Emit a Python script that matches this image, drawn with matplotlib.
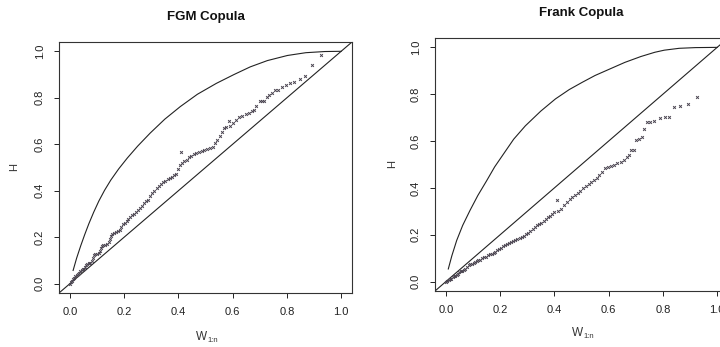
import numpy as np
import matplotlib
matplotlib.use('Agg')
import matplotlib.pyplot as plt

plt.rcParams['font.family'] = ['Liberation Sans', 'DejaVu Sans']

# FGM copula: empirical points (W_1:n, H)
fgm_w = [0.000, 0.004, 0.008, 0.012, 0.016, 0.020, 0.025, 0.030, 0.034, 0.038,
         0.043, 0.048, 0.053, 0.057, 0.060, 0.064, 0.070, 0.076, 0.082, 0.085,
         0.088, 0.093, 0.100, 0.106, 0.111, 0.114, 0.117, 0.123, 0.130, 0.137,
         0.143, 0.147, 0.150, 0.155, 0.162, 0.170, 0.178, 0.185, 0.190, 0.196,
         0.203, 0.210, 0.216, 0.222, 0.230, 0.238, 0.245, 0.252, 0.260, 0.266,
         0.272, 0.280, 0.288, 0.296, 0.304, 0.312, 0.320, 0.328, 0.336, 0.344,
         0.352, 0.360, 0.368, 0.376, 0.384, 0.392, 0.400, 0.406, 0.411, 0.414,
         0.422, 0.430, 0.438, 0.447, 0.456, 0.466, 0.476, 0.486, 0.496, 0.506,
         0.516, 0.526, 0.536, 0.544, 0.552, 0.560, 0.568, 0.576, 0.586, 0.590,
         0.600, 0.612, 0.624, 0.636, 0.648, 0.660, 0.670, 0.677, 0.685, 0.700,
         0.707, 0.716, 0.725, 0.734, 0.744, 0.757, 0.769, 0.781, 0.796, 0.811,
         0.828, 0.848, 0.868, 0.893, 0.926]
fgm_h = [0.000, 0.006, 0.012, 0.020, 0.026, 0.034, 0.036, 0.040, 0.048, 0.055,
         0.058, 0.062, 0.064, 0.072, 0.082, 0.085, 0.087, 0.090, 0.096, 0.110,
         0.122, 0.126, 0.129, 0.132, 0.140, 0.152, 0.163, 0.166, 0.168, 0.172,
         0.178, 0.192, 0.205, 0.212, 0.218, 0.224, 0.226, 0.232, 0.245, 0.258,
         0.262, 0.268, 0.280, 0.289, 0.294, 0.300, 0.308, 0.318, 0.325, 0.336,
         0.348, 0.356, 0.362, 0.376, 0.390, 0.400, 0.410, 0.420, 0.428, 0.436,
         0.444, 0.450, 0.456, 0.460, 0.466, 0.474, 0.494, 0.510, 0.566, 0.520,
         0.528, 0.534, 0.544, 0.550, 0.556, 0.564, 0.568, 0.572, 0.576, 0.580,
         0.582, 0.590, 0.604, 0.620, 0.636, 0.654, 0.668, 0.676, 0.702, 0.680,
         0.692, 0.704, 0.716, 0.722, 0.730, 0.736, 0.742, 0.746, 0.763, 0.784,
         0.788, 0.788, 0.802, 0.812, 0.820, 0.833, 0.833, 0.848, 0.853, 0.863,
         0.870, 0.879, 0.892, 0.942, 0.986]

# Frank copula: empirical points
frank_w = [0.000, 0.005, 0.010, 0.015, 0.020, 0.025, 0.030, 0.035, 0.040, 0.045,
           0.050, 0.055, 0.060, 0.066, 0.072, 0.078, 0.084, 0.090, 0.096, 0.102,
           0.108, 0.114, 0.120, 0.127, 0.134, 0.141, 0.148, 0.155, 0.162, 0.169,
           0.176, 0.183, 0.190, 0.197, 0.204, 0.211, 0.218, 0.225, 0.232, 0.240,
           0.248, 0.256, 0.264, 0.272, 0.280, 0.288, 0.296, 0.304, 0.312, 0.320,
           0.328, 0.336, 0.344, 0.352, 0.360, 0.368, 0.376, 0.384, 0.392, 0.400,
           0.410, 0.412, 0.424, 0.436, 0.446, 0.456, 0.466, 0.476, 0.486, 0.496,
           0.506, 0.516, 0.526, 0.536, 0.546, 0.556, 0.566, 0.576, 0.586, 0.596,
           0.608, 0.620, 0.632, 0.644, 0.656, 0.668, 0.676, 0.684, 0.692, 0.702,
           0.712, 0.722, 0.731, 0.741, 0.752, 0.768, 0.790, 0.806, 0.823, 0.842,
           0.864, 0.891, 0.926]
frank_h = [0.000, 0.003, 0.006, 0.010, 0.012, 0.018, 0.022, 0.024, 0.027, 0.033,
           0.040, 0.044, 0.046, 0.048, 0.052, 0.062, 0.070, 0.074, 0.077, 0.079,
           0.083, 0.088, 0.091, 0.094, 0.099, 0.104, 0.107, 0.112, 0.116, 0.119,
           0.122, 0.128, 0.134, 0.139, 0.145, 0.151, 0.156, 0.162, 0.165, 0.168,
           0.172, 0.176, 0.182, 0.188, 0.192, 0.196, 0.202, 0.208, 0.216, 0.224,
           0.232, 0.240, 0.246, 0.252, 0.258, 0.266, 0.274, 0.282, 0.290, 0.296,
           0.347, 0.300, 0.312, 0.326, 0.340, 0.352, 0.362, 0.370, 0.378, 0.386,
           0.398, 0.410, 0.418, 0.424, 0.432, 0.442, 0.454, 0.466, 0.484, 0.488,
           0.494, 0.500, 0.506, 0.512, 0.520, 0.530, 0.540, 0.562, 0.564, 0.604,
           0.608, 0.618, 0.650, 0.680, 0.682, 0.686, 0.700, 0.702, 0.702, 0.744,
           0.750, 0.759, 0.790]

# upper bound curve
fgm_cx = [0.012, 0.025, 0.040, 0.055, 0.070, 0.088, 0.107, 0.128, 0.151, 0.180,
          0.212, 0.250, 0.296, 0.350, 0.407, 0.470, 0.540, 0.605, 0.665, 0.728,
          0.802, 0.870, 0.940, 1.000]
fgm_cy = [0.057, 0.110, 0.163, 0.212, 0.258, 0.308, 0.356, 0.402, 0.446, 0.494,
          0.541, 0.592, 0.648, 0.708, 0.762, 0.815, 0.862, 0.900, 0.933, 0.960,
          0.982, 0.994, 0.999, 1.000]
frank_cx = [0.009, 0.022, 0.040, 0.062, 0.089, 0.118, 0.150, 0.180, 0.212, 0.250,
            0.293, 0.350, 0.404, 0.455, 0.503, 0.550, 0.601, 0.660, 0.719, 0.770,
            0.805, 0.860, 0.920, 1.000]
frank_cy = [0.054, 0.110, 0.176, 0.240, 0.304, 0.368, 0.430, 0.490, 0.544, 0.608,
            0.665, 0.728, 0.780, 0.820, 0.851, 0.880, 0.906, 0.936, 0.961, 0.979,
            0.988, 0.996, 0.999, 1.000]

ticks = [0.0, 0.2, 0.4, 0.6, 0.8, 1.0]
tick_labels = ['0.0', '0.2', '0.4', '0.6', '0.8', '1.0']

W, H = 720, 347
fig = plt.figure(figsize=(7.2, 3.47), dpi=100)

panels = [
    ('FGM Copula', fgm_w, fgm_h, fgm_cx, fgm_cy, (59, 352, 42, 293), 17, 14, 337),
    ('Frank Copula', frank_w, frank_h, frank_cx, frank_cy, (435, 728, 38, 291), 13, 392, 333),
]

for title, xw, yh, cx, cy, (x0, x1, y0, y1), ty, ylx, xly in panels:
    ax = fig.add_axes([x0 / W, 1 - y1 / H, (x1 - x0) / W, (y1 - y0) / H])
    ax.plot(cx, cy, color='#222222', lw=0.8)
    ax.axline((0, 0), slope=1, color='#222222', lw=0.8)
    ax.plot(xw, yh, linestyle='None', marker='x', ms=2.0, mew=0.7, color='#4a4450')
    ax.set_xlim(-0.04, 1.04)
    ax.set_ylim(-0.04, 1.04)
    ax.set_xticks(ticks)
    ax.set_xticklabels(tick_labels)
    ax.set_yticks(ticks)
    ax.set_yticklabels(tick_labels, rotation=90, va='center')
    ax.tick_params(direction='out', length=3.5, width=0.7, pad=6.5,
                   labelsize=8, colors='#222222')
    for s in ax.spines.values():
        s.set_linewidth(0.8)
        s.set_color('#333333')
    xc = (x0 + x1) / 2
    fig.text(xc / W, 1 - ty / H, title, ha='center', va='center',
             fontsize=9.5, fontweight='bold', color='#111111')
    fig.text(ylx / W, 1 - (y0 + y1) / 2 / H, 'H', rotation=90, ha='center',
             va='center', fontsize=8, color='#333333')
    # x label W with subscript 1:n
    fig.text((xc - 10) / W, 1 - xly / H, 'W', ha='left', va='center',
             fontsize=8.5, color='#333333')
    fig.text((xc + 1.5) / W, 1 - (xly + 3) / H, '1:n', ha='left', va='center',
             fontsize=5.5, color='#333333')

fig.savefig('out.png', dpi=100)
